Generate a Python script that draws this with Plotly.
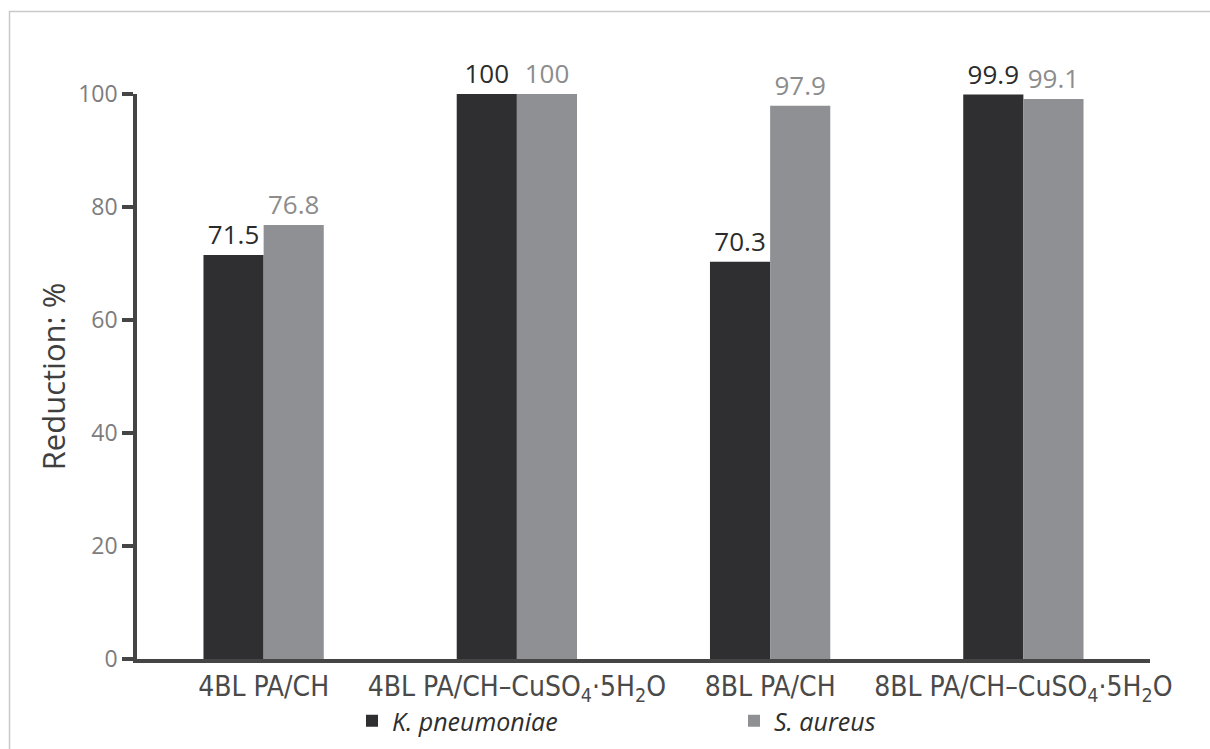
import plotly.graph_objects as go

# Antibacterial reduction for each fabric treatment
categories = [
    "4BL PA/CH",
    "4BL PA/CH\u2013CuSO<sub>4</sub>\u00b75H<sub>2</sub>O",
    "8BL PA/CH",
    "8BL PA/CH\u2013CuSO<sub>4</sub>\u00b75H<sub>2</sub>O",
]
k_pneumoniae = [71.5, 100, 70.3, 99.9]
s_aureus = [76.8, 100, 97.9, 99.1]
y_ticks = [0, 20, 40, 60, 80, 100]

W, H = 1210, 749
L, R, T, B = 137, 60, 94, 90
pw, ph = W - L - R, H - T - B

DARK = "#2f2e31"
GREY = "#8e9093"
NUM_FONT = "Open Sans, Segoe UI, DejaVu Sans, sans-serif"
COND_FONT = "DejaVu Sans Condensed, Liberation Sans Narrow, Roboto, sans-serif"

fig = go.Figure()
fig.add_trace(go.Bar(
    x=categories, y=k_pneumoniae, name="K. pneumoniae",
    marker=dict(color=DARK, line=dict(width=0)),
    text=[f"{v:g}" for v in k_pneumoniae], textposition="outside",
    textfont=dict(family=NUM_FONT, size=26, color="#2b2b2b"),
    cliponaxis=False, constraintext="none",
))
fig.add_trace(go.Bar(
    x=categories, y=s_aureus, name="S. aureus",
    marker=dict(color=GREY, line=dict(width=0)),
    text=[f"{v:g}" for v in s_aureus], textposition="outside",
    textfont=dict(family=NUM_FONT, size=26, color="#8c8c8c"),
    cliponaxis=False, constraintext="none",
))

# light frame around the figure
fig.add_shape(
    type="rect", xref="paper", yref="paper",
    x0=(9.5 - L) / pw, x1=(W + 20 - L) / pw,
    y0=(T + ph - H - 20) / ph, y1=(T + ph - 11.5) / ph,
    line=dict(color="#c9c9c9", width=1.5), fillcolor="rgba(0,0,0,0)",
    layer="below",
)

fig.update_layout(
    width=W, height=H,
    margin=dict(l=L, r=R, t=T, b=B, autoexpand=False),
    paper_bgcolor="white", plot_bgcolor="white",
    barmode="group", bargap=0.525, bargroupgap=0,
    showlegend=True,
    legend=dict(
        orientation="h", x=(352 - L) / pw, xanchor="left",
        y=(T + ph - 721) / ph, yanchor="middle",
        entrywidth=337, entrywidthmode="pixels",
        font=dict(family=NUM_FONT, size=25, color="#2e2e2e", style="italic"),
        bgcolor="rgba(0,0,0,0)", itemwidth=30,
    ),
    xaxis=dict(
        type="category", range=[-0.5, 3.5],
        showline=True, linecolor="#454545", linewidth=3.5,
        ticks="", showgrid=False, zeroline=False,
        tickfont=dict(family=COND_FONT, size=28, color="#4a4a4a"),
    ),
    yaxis=dict(
        range=[0, 100], tickvals=y_ticks,
        showline=True, linecolor="#454545", linewidth=3.5,
        ticks="outside", ticklen=11, tickwidth=3.5, tickcolor="#454545",
        showgrid=False, zeroline=False,
        tickfont=dict(family=NUM_FONT, size=23, color="#7d7d7d"),
        title=dict(text="Reduction: %", standoff=4,
                   font=dict(family=NUM_FONT, size=31, color="#3f3f3f")),
    ),
)

fig.write_html("out.html")
